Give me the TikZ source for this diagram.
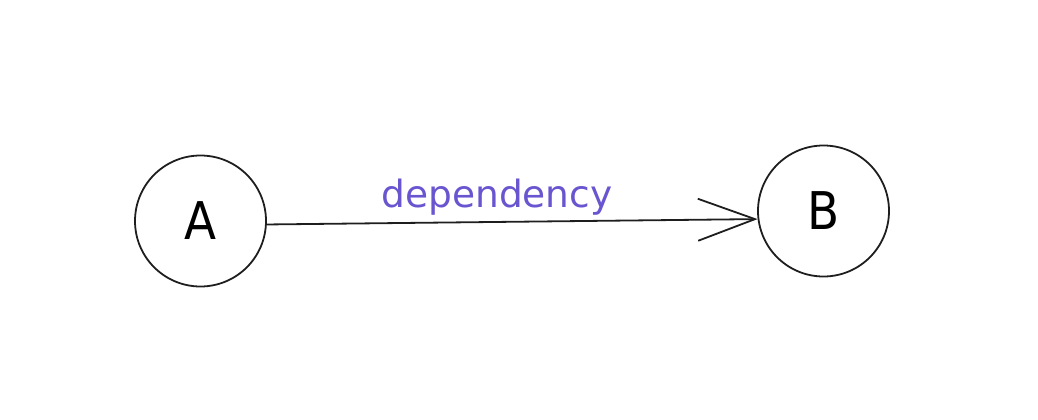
\documentclass[tikz,border=0pt]{standalone}
\usepackage{fontspec}
\setmainfont{DejaVu Sans}
\newfontfamily\condfont{DejaVu Sans Condensed}
\usetikzlibrary{arrows.meta}
\definecolor{lbl}{HTML}{6A55D0}
\definecolor{ink}{HTML}{1E1E1E}
\newcommand{\vlabel}[1]{\raisebox{-3pt}{#1}}
\tikzset{
  vertex/.style={circle, draw=ink, line width=1.8pt, minimum size=131pt, inner sep=0pt, font=\condfont\fontsize{52}{52}\selectfont},
  dep/.style={draw=ink, line width=1.8pt, -{Straight Barb[length=57pt,width=42pt,line width=1.8pt]}},
  deplabel/.style={text=lbl, font=\fontsize{37.5}{37.5}\selectfont, inner sep=0pt, anchor=base}
}
\begin{document}
\begin{tikzpicture}[x=1pt,y=-1pt]
\useasboundingbox (0,0) rectangle (1038,420);
\node[vertex] (A) at (200.5,221) {\vlabel{A}};
\node[vertex] (B) at (823.5,211) {\vlabel{B}};
\draw[dep] (A.-3) -- (B.187);
\node[deplabel] (L) at (497,207) {dependency};
\end{tikzpicture}
\end{document}
